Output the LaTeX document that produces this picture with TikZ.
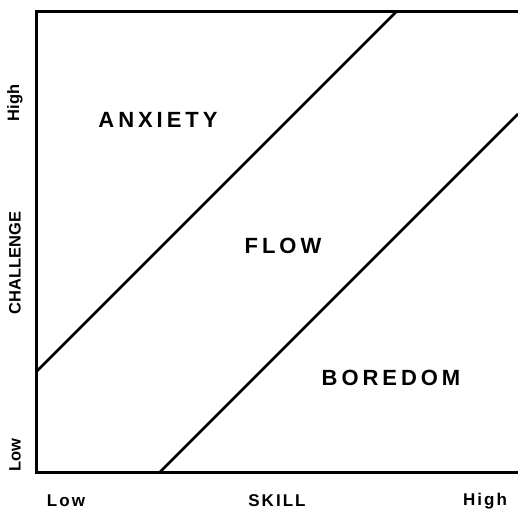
\documentclass[tikz,border=0pt]{standalone}
\usepackage{fontspec}
\setsansfont{Liberation Sans}
\newfontfamily\zonefont{Liberation Sans}[LetterSpace=18]
\newfontfamily\axisfont{Liberation Sans}[LetterSpace=12]
\usetikzlibrary{calc}

\begin{document}
\begin{tikzpicture}[
  x=1pt, y=-1pt,
  frame/.style={draw=black, line width=3pt, line cap=rect},
  edge/.style={draw=black, line width=2.7pt},
  zone/.style={font=\zonefont\fontsize{22}{26}\selectfont\bfseries, inner sep=0pt},
  ticklbl/.style={font=\axisfont\fontsize{17}{20}\selectfont\bfseries, inner sep=0pt},
  sidelbl/.style={font=\sffamily\fontsize{16.5}{19}\selectfont\bfseries, rotate=90, inner sep=0pt},
]
\useasboundingbox (0,0) rectangle (518,511);
% ---- frame ----
\coordinate (tr) at (518,12);
\coordinate (tl) at (36,12);
\coordinate (bl) at (36,472);
\coordinate (br) at (518,472);
\draw[frame] (tr) -- (tl) -- (bl) -- (br);

% ---- channel borders ----
\coordinate (upA) at (36,372);
\coordinate (upB) at (396,12);
\coordinate (loA) at (160,472);
\coordinate (loB) at (518,114);
\draw[edge] (upA) -- (upB);
\draw[edge] (loA) -- (loB);

% ---- zones ----
\node[zone] (anx) at (158,120) {ANXIETY};
\node[zone] (flow) at (283,246) {FLOW};
\node[zone] (bore) at (391,378) {BOREDOM};

% ---- axes ----
\node[ticklbl] (xlow)  at (66,501)  {Low};
\node[ticklbl] (skill) at (277,501) {SKILL};
\node[ticklbl] (xhigh) at (485,501) {High};
\node[sidelbl] (yhigh) at (15,103) {High};
\node[sidelbl] (chal)  at (15,263) {CHALLENGE};
\node[sidelbl] (ylow)  at (15,455) {Low};
\end{tikzpicture}
\end{document}
